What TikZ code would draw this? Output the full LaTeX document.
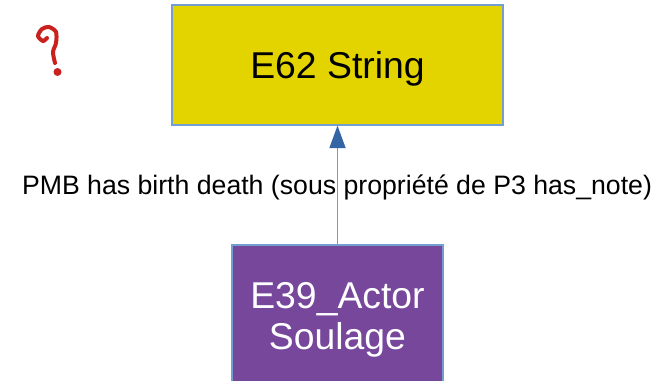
\documentclass[tikz,border=0pt]{standalone}
\usepackage{fontspec}
\setmainfont{Liberation Sans}
\usetikzlibrary{arrows.meta}

\definecolor{stringyellow}{HTML}{E3D400}
\definecolor{actorpurple}{HTML}{77479C}
\definecolor{edgeblue}{HTML}{729FCF}
\definecolor{tipblue}{HTML}{3465A4}
\definecolor{qred}{HTML}{C9211E}

\begin{document}
\begin{tikzpicture}[x=0.75pt, y=-0.75pt, >={Triangle[length=17pt,width=12pt,color=tipblue]}]
        % Define node styles
        \tikzstyle{classbox}=[rectangle,draw=edgeblue,line width=0.8pt,inner sep=0pt,align=center,font=\fontsize{28}{31}\selectfont]
        \tikzstyle{qmark}=[draw=qred,line width=3pt,line cap=round]

        \useasboundingbox (0,0) rectangle (667,381);

        % Class nodes
        \node [classbox, fill=stringyellow, minimum width=331*0.75pt, minimum height=120*0.75pt, text depth=0pt] (string) at (337.5,65) {E62 String};
        \node [classbox, fill=actorpurple, text=white, minimum width=211*0.75pt, minimum height=138*0.75pt] (actor) at (337.5,314) {\rule{0pt}{28pt}E39\_Actor\\Soulage};

        % Property arrow
        \draw [->, draw=edgeblue, line width=1.4pt] (actor) -- (string);

        % Annotate property
        \node [font=\fontsize{20}{23}\selectfont] (prop) at (337,187) {PMB has birth death (sous propriété de P3 has\_note)};

        % Question mark
        \draw [qmark] plot[smooth] coordinates {(47,38) (43,41) (38,36) (42,29) (49,27) (56,32) (56,43) (53,52) (55,63)};
        \fill [qred] (57.5,72) circle (4);
\end{tikzpicture}
\end{document}
